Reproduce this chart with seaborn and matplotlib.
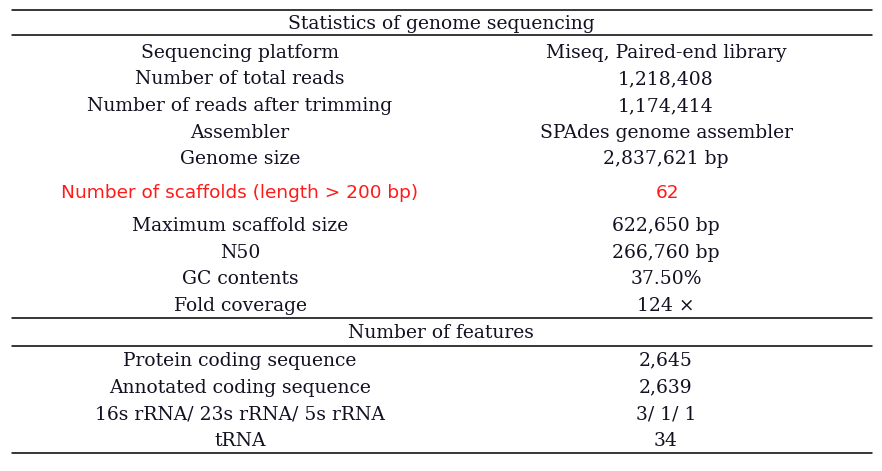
import matplotlib
matplotlib.use('Agg')
import matplotlib.pyplot as plt
import seaborn as sns

# =============================================================
# DATA
# =============================================================
section_titles = ['Statistics of genome sequencing', 'Number of features']

stat_labels = ['Sequencing platform', 'Number of total reads',
               'Number of reads after trimming', 'Assembler', 'Genome size',
               'Number of scaffolds (length > 200 bp)',
               'Maximum scaffold size', 'N50', 'GC contents', 'Fold coverage']
stat_values = ['Miseq, Paired-end library', '1,218,408', '1,174,414',
               'SPAdes genome assembler', '2,837,621 bp', '62',
               '622,650 bp', '266,760 bp', '37.50%', '124 ×']
highlight_row = 5

feature_labels = ['Protein coding sequence', 'Annotated coding sequence',
                  '16s rRNA/ 23s rRNA/ 5s rRNA', 'tRNA']
feature_values = ['2,645', '2,639', '3/ 1/ 1', '34']

# =============================================================
# LAYOUT (pixel units)
# =============================================================
W, H = 882, 471
X0, X1 = 12, 872
COL_L, COL_R, COL_MID = 240, 666, 441
ROW_H = 26.7
RED_H = 40
DY = 1.5   # small downward nudge of text inside rows

sns.set_theme(style='white')
plt.rcParams['font.family'] = ['DejaVu Serif']

fig = plt.figure(figsize=(W / 100, H / 100), dpi=100)
ax = fig.add_axes([0, 0, 1, 1])
ax.set_xlim(0, W)
ax.set_ylim(H, 0)
ax.axis('off')

FS = 13.5
txt = dict(ha='center', va='center', fontsize=FS, color='#111122')

y = 9.5
ax.plot([X0, X1], [y, y], color='black', lw=1.1)
ax.text(COL_MID, y + 13 + DY, section_titles[0], **txt)
y += 25.5
ax.plot([X0, X1], [y, y], color='black', lw=1.1)
y += 2.7

for i, (lab, val) in enumerate(zip(stat_labels, stat_values)):
    h = RED_H if i == highlight_row else ROW_H
    yc = y + h / 2 + DY
    if i == highlight_row:
        red = dict(ha='center', va='center', fontsize=13.3,
                   color='#ff1a1a', family=['DejaVu Sans'])
        ax.text(COL_L, yc, lab, **red)
        ax.text(COL_R + 2, yc, val, **red)
    else:
        ax.text(COL_L, yc, lab, **txt)
        ax.text(COL_R, yc, val, **txt)
    y += h

ax.plot([X0, X1], [y, y], color='black', lw=1.1)
ax.text(COL_MID, y + 14 + DY, section_titles[1], **txt)
y += 28
ax.plot([X0, X1], [y, y], color='black', lw=1.1)

for lab, val in zip(feature_labels, feature_values):
    yc = y + ROW_H / 2 + DY
    ax.text(COL_L, yc, lab, **txt)
    ax.text(COL_R, yc, val, **txt)
    y += ROW_H

ax.plot([X0, X1], [y, y], color='black', lw=1.1)

plt.savefig('out.png', dpi=100)
